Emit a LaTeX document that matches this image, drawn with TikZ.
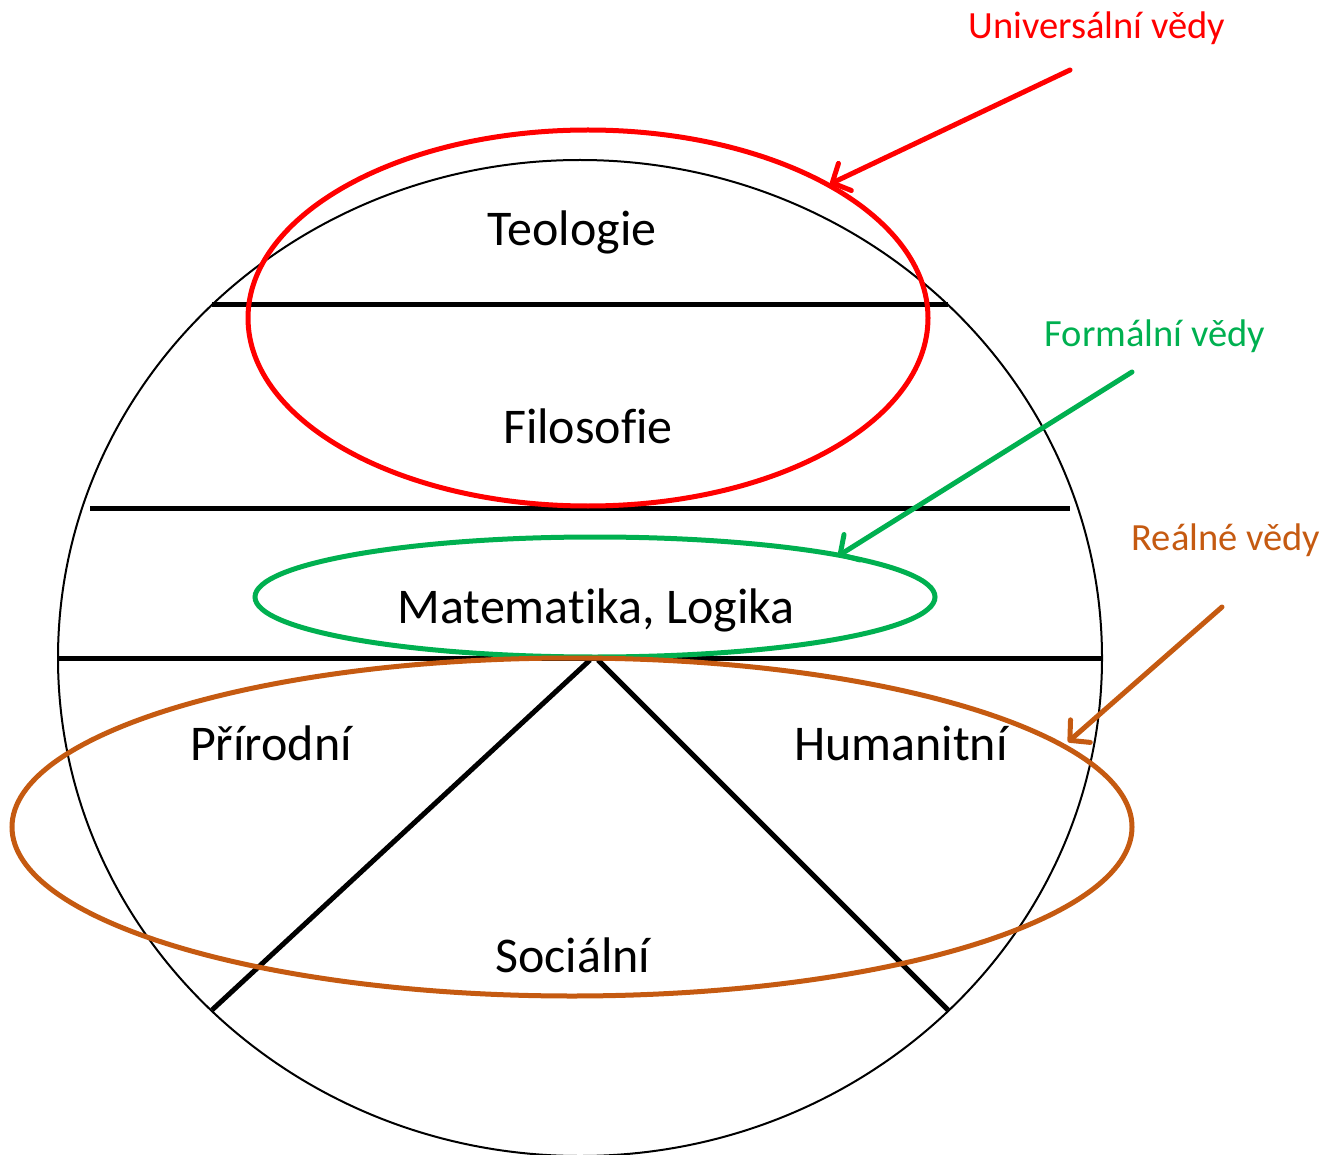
\documentclass[tikz,border=0pt]{standalone}
\usepackage{fontspec}
\setmainfont[Ligatures=CommonOff]{Carlito}
\usetikzlibrary{arrows.meta}
\definecolor{ured}{HTML}{FF0000}
\definecolor{fgreen}{HTML}{00B050}
\definecolor{rbrown}{HTML}{C55A11}
\begin{document}
\begin{tikzpicture}[x=1pt,y=-1pt,
  mainlbl/.style={anchor=base,inner sep=0pt,font=\fontsize{50}{58}\selectfont},
  sidelbl/.style={anchor=base,inner sep=0pt,font=\fontsize{38.5}{44}\selectfont},
  divider/.style={line width=5pt},
  ring/.style={line width=5pt},
  pointer/.style={line width=5pt,line cap=round,-{Straight Barb[length=14pt,width=30pt,round]}}]
\useasboundingbox (0,0) rectangle (1325,1155);
% globe
\draw[line width=2pt] (580,658) ellipse [x radius=522, y radius=498];
\draw[divider] (212,305) -- (948,305);
\draw[divider] (90,508) -- (1070,508);
\draw[divider] (58,658) -- (1102,658);
\coordinate (apexL) at (590,660);
\coordinate (apexR) at (598,660);
\coordinate (footL) at (212,1010);
\coordinate (footR) at (948,1010);
\draw[divider] (apexL) -- (footL);
\draw[divider] (apexR) -- (footR);
% labels in the globe
\node[mainlbl] (teo) at (572,246) {Teologie};
\node[mainlbl] (fil) at (588,443) {Filosofie};
\node[mainlbl] (mat) at (596,623) {Matematika, Logika};
\node[mainlbl] (pri) at (271,760) {Přírodní};
\node[mainlbl] (hum) at (901,760) {Humanitní};
\node[mainlbl] (soc) at (573,972) {Sociální};
% groups
\draw[ring,ured] (588,318) ellipse [x radius=340, y radius=188];
\draw[ring,fgreen] (595,597) ellipse [x radius=340, y radius=60];
\draw[ring,rbrown] (572,827) ellipse [x radius=560, y radius=169];
% side labels
\node[sidelbl,text=ured] (uni) at (1097,39) {Universální vědy};
\node[sidelbl,text=fgreen] (for) at (1155,347) {Formální vědy};
\node[sidelbl,text=rbrown] (rea) at (1226,550) {Reálné vědy};
\coordinate (uniS) at (1070,70);
\coordinate (uniE) at (830,184);
\coordinate (forS) at (1132,372);
\coordinate (forE) at (838,556);
\coordinate (reaS) at (1222,607);
\coordinate (reaE) at (1068,742);
\draw[pointer,ured] (uniS) -- (uniE);
\draw[pointer,fgreen] (forS) -- (forE);
\draw[pointer,rbrown] (reaS) -- (reaE);
\end{tikzpicture}
\end{document}
